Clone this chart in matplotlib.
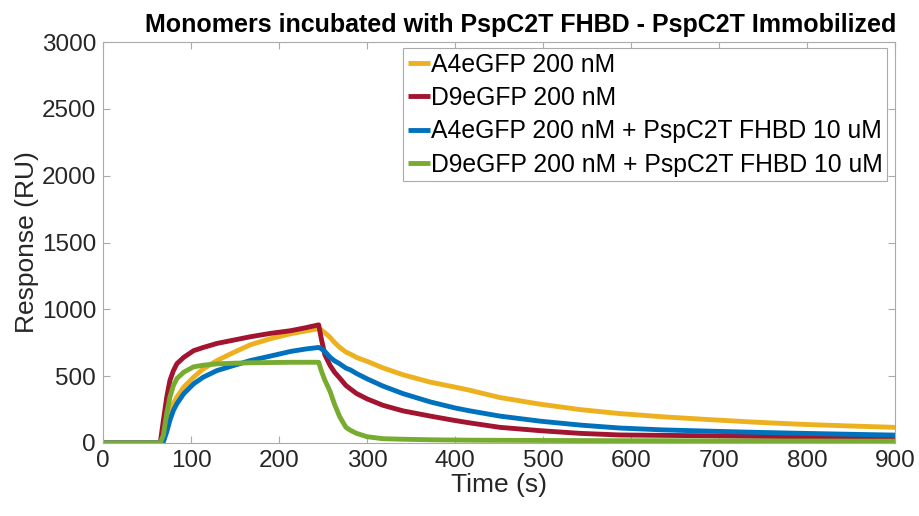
import matplotlib.pyplot as plt

plt.rcParams['font.family'] = ['Liberation Sans', 'DejaVu Sans']

# association phase (s)
t_on = [0, 65, 68.6, 72.4, 76, 80, 84, 91.7, 103, 114, 129.5, 148.5, 167.4,
        190, 213, 230, 245]
a4_on = [0, 0, 47, 148, 233, 295, 344, 418, 493, 555, 617, 678, 735,
         780, 817, 838, 855]
d9_on = [0, 0, 171, 344, 468, 542, 594, 641, 691, 715, 745, 770, 795,
         820, 840, 862, 884]
a4_fhbd_on = [0, 0, 10, 84, 171, 245, 295, 369, 443, 493, 542, 580, 617,
              650, 685, 703, 715]
d9_fhbd_on = [0, 0, 60, 223, 344, 431, 483, 530, 570, 582, 592, 597, 600,
              602, 604, 604, 604]

# dissociation phase (s)
t_off = [248, 252, 258, 263, 269, 276, 281, 288, 300, 318, 341, 372, 400,
         417, 451, 497, 542, 587, 636, 686, 740, 796, 850, 900]
a4_off = [845, 825, 790, 752, 715, 680, 665, 640, 611, 562, 510, 455, 418,
          394, 340, 290, 250, 220, 196, 176, 156, 139, 127, 117]
d9_off = [780, 660, 580, 530, 485, 430, 405, 370, 330, 282, 240, 201, 168,
          150, 117, 92, 72, 60, 57, 54, 50, 47, 44, 42]
a4_fhbd_off = [705, 685, 641, 615, 592, 560, 547, 520, 480, 426, 369, 307, 262,
               240, 201, 163, 134, 112, 98, 89, 80, 72, 65, 59]
d9_fhbd_off = [540, 470, 385, 290, 195, 117, 95, 72, 47, 32, 28, 24, 22,
               21, 20, 19, 18, 17, 17, 16, 15, 15, 14, 14]

labels = ['A4eGFP 200 nM', 'D9eGFP 200 nM',
          'A4eGFP 200 nM + PspC2T FHBD 10 uM',
          'D9eGFP 200 nM + PspC2T FHBD 10 uM']
colors = ['#EDB120', '#A2142F', '#0072BD', '#77AC30']

series = [(a4_on, a4_off), (d9_on, d9_off),
          (a4_fhbd_on, a4_fhbd_off), (d9_fhbd_on, d9_fhbd_off)]

fig = plt.figure(figsize=(9.2, 5.16), dpi=100)
ax = fig.add_axes([0.112, 0.1415, 0.861, 0.777])

for (on, off), lab, c in zip(series, labels, colors):
    ax.plot(t_on + t_off, on + off, color=c, lw=3.5, label=lab,
            solid_joinstyle='round', solid_capstyle='butt')

ax.set_xlim(0, 900)
ax.set_ylim(0, 3000)
ax.set_xticks(range(0, 901, 100))
ax.set_yticks(range(0, 3001, 500))
ax.tick_params(direction='in', top=True, right=True, labelsize=17.5,
               colors='#aaaaaa', labelcolor='#262626', length=5, pad=5)
for s in ax.spines.values():
    s.set_color('#aaaaaa')
ax.set_xlabel('Time (s)', fontsize=19, color='#262626', labelpad=1)
ax.set_ylabel('Response (RU)', fontsize=19, color='#262626', labelpad=2)
ax.set_title('Monomers incubated with PspC2T FHBD - PspC2T Immobilized',
             fontsize=18, fontweight='bold', pad=7, x=0.527)

leg = ax.legend(loc='upper right', fontsize=17.8, handlelength=0.9,
                handletextpad=0.05, borderpad=0.18, labelspacing=0.38,
                borderaxespad=0, fancybox=False, framealpha=1,
                bbox_to_anchor=(0.99, 0.985))
leg.get_frame().set_edgecolor('#aaaaaa')
leg.get_frame().set_linewidth(0.8)

fig.savefig('out.png', dpi=100)
